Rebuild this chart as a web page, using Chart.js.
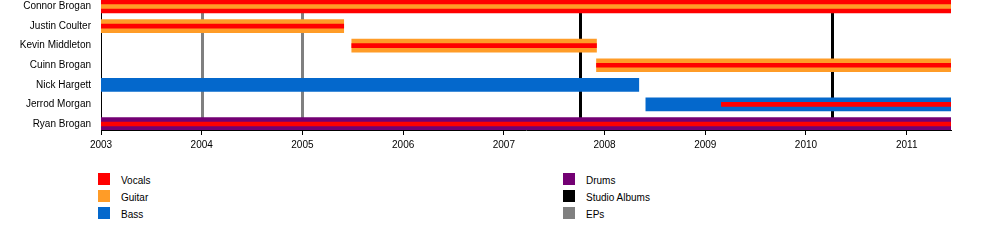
<!DOCTYPE html>
<html>
<head>
<meta charset="utf-8">
<script src="https://cdn.jsdelivr.net/npm/chart.js@4/dist/chart.umd.min.js"></script>
<style>
  html, body { margin: 0; padding: 0; background: #fff; }
  #wrap { position: relative; width: 1000px; height: 250px; overflow: hidden; }
  #chartBox { position: absolute; left: 0; top: 0; width: 1000px; height: 160px; }
  .lg { position: absolute; font: 10px "Liberation Sans", Arial, sans-serif; color: #000; display: flex; align-items: center; height: 12px; }
  .lg span.sw { display: inline-block; width: 12px; height: 12px; margin-right: 11px; }
  .lg span.tx { position: relative; top: 1px; }
</style>
</head>
<body>
<div id="wrap">
  <div id="chartBox"><canvas id="c"></canvas></div>
  <div id="legend"></div>
</div>
<script>
// ---- data ----
const members = ['Connor Brogan', 'Justin Coulter', 'Kevin Middleton', 'Cuinn Brogan', 'Nick Hargett', 'Jerrod Morgan', 'Ryan Brogan'];
const mainRole   = ['Vocals', 'Guitar', 'Guitar', 'Guitar', 'Bass', 'Bass', 'Drums'];
const mainStart  = [2003, 2003, 2005.49, 2007.92, 2003, 2008.41, 2003];
const mainEnd    = [2011.44, 2005.41, 2007.92, 2011.44, 2008.34, 2011.44, 2011.44];
const stripeRole  = ['Guitar', 'Vocals', 'Vocals', 'Vocals', null, 'Vocals', 'Vocals'];
const stripeStart = [2003, 2003, 2005.49, 2007.92, null, 2009.16, 2003];
const stripeEnd   = [2011.44, 2005.41, 2007.92, 2011.44, null, 2011.44, 2011.44];
const studioAlbums = [2007.76, 2010.26];
const eps = [2004.0, 2005.0];
const yearTicks = [2003, 2004, 2005, 2006, 2007, 2008, 2009, 2010, 2011];
const xMin = 2003, xMax = 2011.44;

const roles = ['Vocals', 'Guitar', 'Bass', 'Drums'];
const roleColors = { Vocals: '#FF0000', Guitar: '#FF9C27', Bass: '#0468CC', Drums: '#730073' };
const legendLeft = ['Vocals', 'Guitar', 'Bass'];
const legendRight = ['Drums', 'Studio Albums', 'EPs'];
const legendColors = { Vocals: '#FF0000', Guitar: '#FF9C27', Bass: '#0468CC', Drums: '#730073', 'Studio Albums': '#000000', EPs: '#808080' };

// ---- datasets ----
const datasets = [];
roles.forEach(r => {
  const d = [];
  members.forEach((m, i) => { if (mainRole[i] === r) d.push({ x: [mainStart[i], mainEnd[i]], y: i }); });
  if (d.length) datasets.push({ label: r, data: d, backgroundColor: roleColors[r], barThickness: 13, order: 2, grouped: false, borderWidth: 0 });
});
roles.forEach(r => {
  const d = [];
  members.forEach((m, i) => { if (stripeRole[i] === r) d.push({ x: [stripeStart[i], stripeEnd[i]], y: i }); });
  if (d.length) datasets.push({ label: r + ' stripe', data: d, backgroundColor: roleColors[r], barThickness: 4, order: 1, grouped: false, borderWidth: 0 });
});

const linesPlugin = {
  id: 'releaseLines',
  beforeDatasetsDraw(chart) {
    const { ctx, chartArea, scales } = chart;
    const draw = (vals, color) => {
      vals.forEach(v => {
        const px = Math.round(scales.x.getPixelForValue(v)) + 0.5;
        ctx.save();
        ctx.strokeStyle = color;
        ctx.lineWidth = 3;
        ctx.beginPath();
        ctx.moveTo(px, chartArea.top);
        ctx.lineTo(px, chartArea.bottom);
        ctx.stroke();
        ctx.restore();
      });
    };
    draw(eps, legendColors.EPs);
    draw(studioAlbums, legendColors['Studio Albums']);
  }
};

Chart.defaults.font.family = '"Liberation Sans", Arial, sans-serif';
Chart.defaults.font.size = 10;
Chart.defaults.color = '#000';

new Chart(document.getElementById('c'), {
  type: 'bar',
  data: { datasets },
  options: {
    indexAxis: 'y',
    responsive: true,
    maintainAspectRatio: false,
    animation: false,
    layout: { padding: { left: 0, right: 49, top: 0, bottom: 0 } },
    plugins: { legend: { display: false }, tooltip: { enabled: false } },
    scales: {
      x: {
        type: 'linear',
        min: xMin, max: xMax,
        offset: false,
        afterBuildTicks(s) { s.ticks = yearTicks.map(v => ({ value: v })); },
        afterFit(s) { s.height = 30; s.paddingLeft = 0; s.paddingRight = 0; },
        ticks: { callback: v => String(v), padding: 4, autoSkip: false, maxRotation: 0, color: '#000' },
        grid: { drawOnChartArea: false, drawTicks: true, tickLength: 5, color: '#000', lineWidth: 1 },
        border: { display: true, color: '#000', width: 1 }
      },
      y: {
        type: 'linear',
        reverse: true,
        offset: false,
        min: -0.332, max: 6.306,
        afterBuildTicks(s) { s.ticks = members.map((m, i) => ({ value: i })); },
        afterFit(s) { s.width = 101; s.paddingTop = 0; s.paddingBottom = 0; },
        ticks: { callback: v => members[v] ?? '', padding: 10, autoSkip: false, color: '#000' },
        grid: { drawOnChartArea: false, drawTicks: false },
        border: { display: true, color: '#000', width: 1 }
      }
    }
  },
  plugins: [linesPlugin]
});

// ---- legend ----
const lg = document.getElementById('legend');
function addLegend(items, sx) {
  items.forEach((name, k) => {
    const el = document.createElement('div');
    el.className = 'lg';
    el.style.left = sx + 'px';
    el.style.top = (173 + k * 17) + 'px';
    el.innerHTML = '<span class="sw" style="background:' + legendColors[name] + '"></span><span class="tx">' + name + '</span>';
    lg.appendChild(el);
  });
}
addLegend(legendLeft, 98);
addLegend(legendRight, 563);
</script>
</body>
</html>
